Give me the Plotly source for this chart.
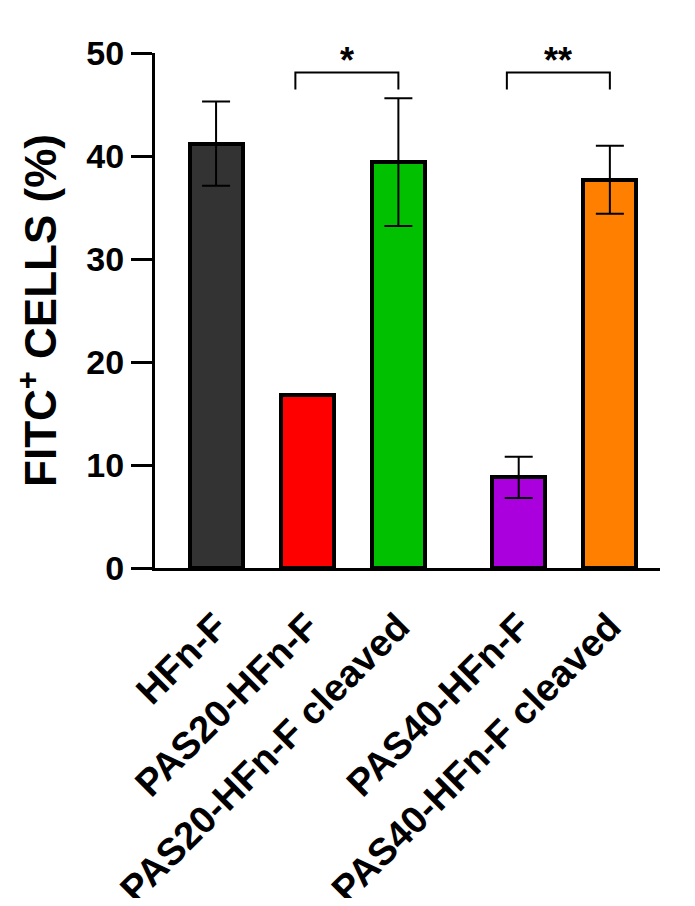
import plotly.graph_objects as go

categories = ["HFn-F", "PAS20-HFn-F", "PAS20-HFn-F cleaved", "PAS40-HFn-F", "PAS40-HFn-F cleaved"]
group = [0, 0, 0, 1, 1]
values = [41.2, 16.8, 39.4, 8.8, 37.7]
errors = [4.1, 0.05, 6.2, 2.0, 3.3]
colors = ["#333333", "#ff0000", "#00c000", "#aa00dd", "#ff8000"]
y_ticks = [0, 10, 20, 30, 40, 50]

# significance comparisons: (left index, right index, label)
comparisons = [(1, 2, "*"), (3, 4, "**")]
bracket_y = 48.1
bracket_drop = 1.65

GAP = 0.32
xpos = [i + g * GAP for i, g in enumerate(group)]

fig = go.Figure()
fig.add_trace(go.Bar(
    x=xpos, y=values,
    width=0.58,
    marker=dict(color=colors, line=dict(color="black", width=4)),
    error_y=dict(type="data", array=errors, visible=True, color="black", thickness=2, width=14),
    showlegend=False,
))

for a, b, lab in comparisons:
    x0 = xpos[a] - 0.13
    x1 = xpos[b]
    fig.add_shape(type="path",
                  path=f"M {x0} {bracket_y - bracket_drop} L {x0} {bracket_y} L {x1} {bracket_y} L {x1} {bracket_y - bracket_drop}",
                  line=dict(color="black", width=2), xref="x", yref="y")
    fig.add_annotation(x=(x0 + x1) / 2, y=bracket_y, text=f"<b>{lab}</b>", showarrow=False,
                       yanchor="bottom", yshift=-10,
                       font=dict(size=36, color="black", family="Liberation Sans"))

fig.update_layout(
    width=679, height=890,
    margin=dict(l=147, r=27, t=45, b=330),
    plot_bgcolor="white", paper_bgcolor="white",
    font=dict(family="Liberation Sans", color="black"),
    bargap=0,
)
fig.update_xaxes(
    range=[-0.67, 4.87], tickvals=xpos, ticktext=categories, tickangle=-45,
    showline=True, linecolor="black", linewidth=3, ticks="", showgrid=False, zeroline=False,
    tickfont=dict(size=38, family="Liberation Sans", color="black", weight="bold"),
    ticklabelstandoff=18,
    automargin=False,
)
fig.update_yaxes(
    range=[0, 50], tickvals=y_ticks, showline=True, linecolor="black", linewidth=3,
    ticks="outside", ticklen=21, tickwidth=3, tickcolor="black", showgrid=False, zeroline=False,
    tickfont=dict(size=34, family="Liberation Sans", color="black", weight="bold"),
    title=dict(text="FITC<sup>+</sup> CELLS (%)", standoff=16,
               font=dict(size=44, family="Liberation Sans", color="black", weight="bold")),
    automargin=False,
)

fig.write_html("out.html")
